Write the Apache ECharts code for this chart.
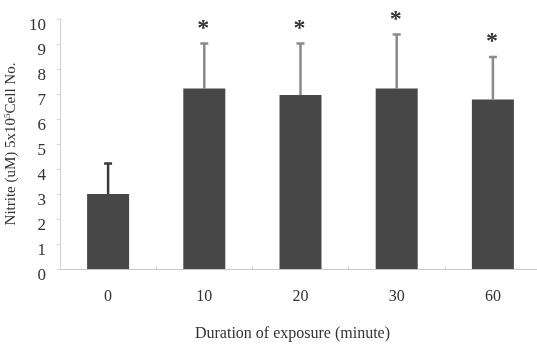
<!DOCTYPE html>
<html><head><meta charset="utf-8">
<script src="https://cdn.jsdelivr.net/npm/echarts@6/dist/echarts.min.js"></script>
<style>html,body{margin:0;padding:0;background:#fff}#c{width:537px;height:345px}</style>
</head><body><div id="c"></div>
<script>
const categories = ['0', '10', '20', '30', '60'];
const means = [3.0, 7.22, 6.96, 7.22, 6.78];
const upper = [4.22, 9.02, 9.02, 9.38, 8.48];
const significant = [false, true, true, true, true];
const yTicks = [0, 1, 2, 3, 4, 5, 6, 7, 8, 9, 10];

const FONT = 'Liberation Serif';
const chart = echarts.init(document.getElementById('c'));
const errData = categories.map((c, i) => [i, means[i], upper[i], significant[i] ? 1 : 0]);

chart.setOption({
  animation: false,
  grid: { left: 60, top: 19, width: 481, height: 250, containLabel: false, outerBoundsMode: 'none' },
  xAxis: {
    type: 'category', data: categories,
    axisLine: { lineStyle: { color: '#c8c8c8', width: 1 } },
    axisTick: { show: true, inside: true, length: 3, lineStyle: { color: '#cfcfcf' } },
    axisLabel: { color: '#333', fontFamily: FONT, fontSize: 16, margin: 20 },
    name: 'Duration of exposure (minute)', nameLocation: 'middle', nameGap: 57,
    nameTextStyle: { color: '#333', fontFamily: FONT, fontSize: 16, padding: [0, 16, 0, 0] }
  },
  yAxis: {
    type: 'value', min: yTicks[0], max: yTicks[yTicks.length - 1], interval: 1,
    axisLine: { show: true, lineStyle: { color: '#d0d0d0', width: 1 } },
    axisTick: { show: true, length: 3, lineStyle: { color: '#d6d6d6' } },
    splitLine: { show: false },
    axisLabel: { color: '#333', fontFamily: FONT, fontSize: 17, margin: 14, verticalAlign: 'top', lineHeight: 14 },
    name: '{n|Nitrite (uM) 5x10}{s|5}{n|Cell No.}', nameLocation: 'middle', nameGap: 40,
    nameTextStyle: {
      color: '#333', fontFamily: FONT, fontSize: 15, padding: [0, 0, 0, 0],
      rich: {
        n: { fontFamily: FONT, fontSize: 15, color: '#333' },
        s: { fontFamily: FONT, fontSize: 9, color: '#333', verticalAlign: 'top', padding: [0, 0, 6, 0] }
      }
    }
  },
  series: [
    {
      type: 'bar', data: means, barWidth: 42,
      itemStyle: { color: '#474747' }, z: 2
    },
    {
      type: 'custom', data: errData, z: 3,
      renderItem: function (params, api) {
        const i = api.value(0);
        const base = api.coord([i, api.value(1)]);
        const top = api.coord([i, api.value(2)]);
        const col = i === 0 ? '#3a3a3a' : '#8a8a8a';
        const children = [
          { type: 'line', shape: { x1: base[0], y1: base[1], x2: top[0], y2: top[1] }, style: { stroke: col, lineWidth: 2.5 } },
          { type: 'line', shape: { x1: top[0] - 4, y1: top[1], x2: top[0] + 4, y2: top[1] }, style: { stroke: col, lineWidth: 2.5 } }
        ];
        if (api.value(3)) {
          children.push({ type: 'text', style: { text: '*', x: top[0] - 1, y: top[1] - 15, align: 'center', verticalAlign: 'middle', font: 'bold 24px "Liberation Serif"', fill: '#333' } });
        }
        return { type: 'group', children: children };
      }
    }
  ]
});
</script></body></html>
